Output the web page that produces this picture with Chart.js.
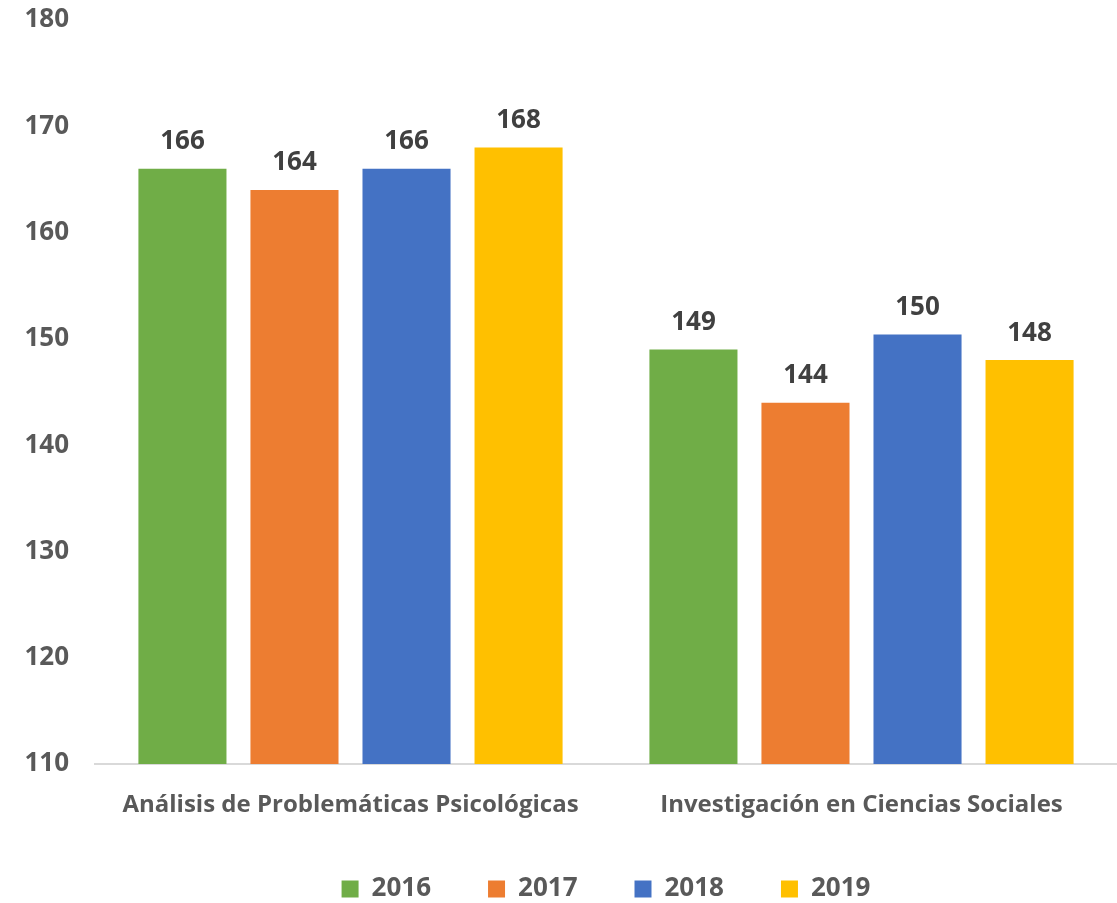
<!DOCTYPE html>
<html>
<head>
<meta charset="utf-8">
<script src="https://cdn.jsdelivr.net/npm/chart.js@4"></script>
<style>
  body { margin: 0; background: #fff; }
  #wrap { width: 1117px; height: 903px; position: relative; }
</style>
</head>
<body>
<div id="wrap"><canvas id="cursosChart"></canvas></div>
<script>
// Datos
const categorias = ['Análisis de Problemáticas Psicológicas', 'Investigación en Ciencias Sociales'];
const anios = ['2016', '2017', '2018', '2019'];
const valores2016 = [166, 149];
const valores2017 = [164, 144];
const valores2018 = [166, 150.4];
const valores2019 = [168, 148];
const colores = ['#70AD47', '#ED7D31', '#4472C4', '#FFC000'];

const series = [valores2016, valores2017, valores2018, valores2019];
const fuente = "'Open Sans', 'DejaVu Sans', sans-serif";

// etiquetas de valor sobre cada barra
const etiquetasValor = {
    id: 'etiquetasValor',
    afterDatasetsDraw(chart) {
        const ctx = chart.ctx;
        ctx.save();
        ctx.font = 'bold 26px ' + fuente;
        ctx.fillStyle = '#404040';
        ctx.textAlign = 'center';
        ctx.textBaseline = 'middle';
        chart.data.datasets.forEach((ds, i) => {
            chart.getDatasetMeta(i).data.forEach((bar, j) => {
                ctx.fillText(Math.round(ds.data[j]), bar.x, bar.y - 27);
            });
        });
        ctx.restore();
    }
};

const ctx = document.getElementById('cursosChart').getContext('2d');
const cursosChart = new Chart(ctx, {
    type: 'bar',
    data: {
        labels: categorias,
        datasets: anios.map((a, i) => ({
            label: a,
            data: series[i],
            backgroundColor: colores[i],
            categoryPercentage: 0.877,
            barPercentage: 0.786
        }))
    },
    options: {
        responsive: true,
        maintainAspectRatio: false,
        animation: false,
        layout: { padding: { top: 20, left: 0, right: 0, bottom: 0 } },
        plugins: {
            tooltip: { enabled: false },
            legend: {
                position: 'bottom',
                fullSize: false,
                maxHeight: 84,
                labels: {
                    boxWidth: 17,
                    boxHeight: 17,
                    padding: 57,
                    color: '#595959',
                    font: { family: fuente, size: 26, weight: 'bold' }
                }
            }
        },
        scales: {
            x: {
                grid: { display: false, drawTicks: false },
                border: { color: '#D9D9D9', width: 2 },
                ticks: {
                    color: '#595959',
                    padding: 27,
                    font: { family: fuente, size: 24, weight: 'bold' }
                },
                afterFit: s => { s.height = 55; }
            },
            y: {
                min: 110,
                max: 180,
                grid: { display: false, drawTicks: false },
                border: { display: false },
                ticks: {
                    stepSize: 10,
                    color: '#595959',
                    padding: 26,
                    font: { family: fuente, size: 26, weight: 'bold' }
                },
                afterFit: s => {
                    s.width = 95;
                    s.paddingTop = 20;
                    s.paddingBottom = 20;
                }
            }
        }
    },
    plugins: [etiquetasValor]
});
</script>
</body>
</html>
